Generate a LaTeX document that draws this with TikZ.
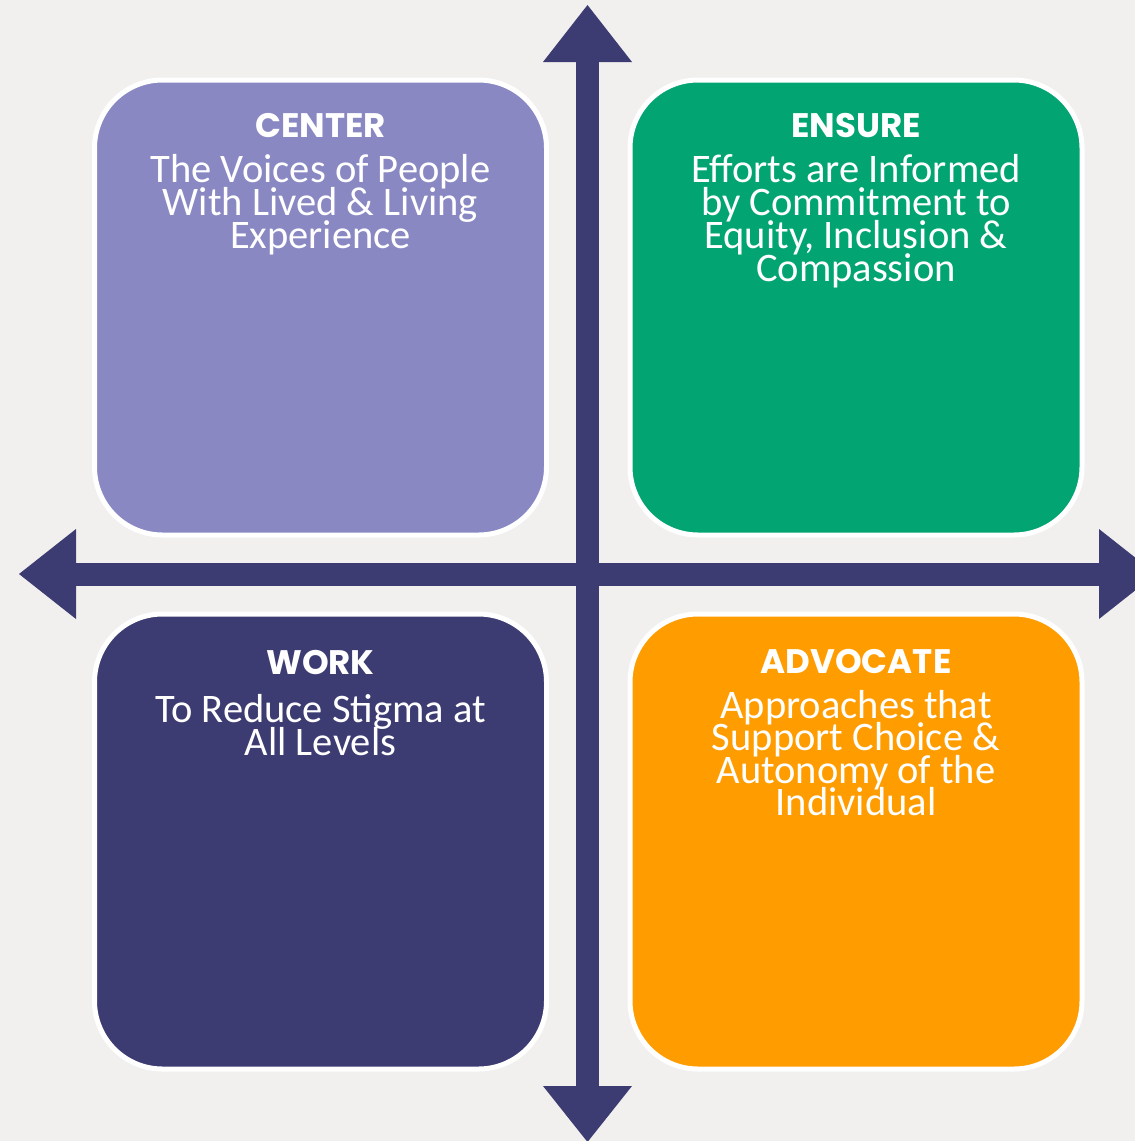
\documentclass[tikz,border=0pt]{standalone}
\usepackage{fontspec}
\setmainfont{Carlito}
\newfontfamily\ttlfont{Poppins}
\definecolor{bgc}{HTML}{F1F0EE}
\definecolor{lavc}{HTML}{8988C3}
\definecolor{grnc}{HTML}{02A572}
\definecolor{navc}{HTML}{3C3B72}
\definecolor{orgc}{HTML}{FF9C00}
\tikzset{
  quad/.style={rectangle, rounded corners=68pt, draw=white, line width=5pt,
    minimum width=452pt, minimum height=455pt, inner sep=0pt},
  ttl/.style={text=white, anchor=base, inner sep=0pt, font=\ttlfont\bfseries\fontsize{34}{34}\selectfont},
  bod/.style={text=white, anchor=base, inner sep=0pt, font=\fontsize{40.5}{33}\selectfont},
  axis/.style={fill=navc, draw=none}
}
\begin{document}
\begin{tikzpicture}[x=1pt, y=-1pt]
\useasboundingbox (0,0) rectangle (1135,1141);
\clip (0,0) rectangle (1135,1141);
\fill[bgc] (0,0) rectangle (1135,1141);
% boxes
\node[quad, fill=lavc] (tl) at (320.5,307.5) {};
\node[quad, fill=grnc] (tr) at (856,307.5) {};
\node[quad, fill=navc] (bl) at (320.5,841.5) {};
\node[quad, fill=orgc] (br) at (856,841.5) {};
% axes
\coordinate (c) at (587.5,574);
\fill[axis] (576,62) rectangle (599,1086);
\fill[axis] (587.5,5) -- (632,62) -- (543,62) -- cycle;
\fill[axis] (587.5,1142) -- (632,1086) -- (543,1086) -- cycle;
\fill[axis] (76,562.5) rectangle (1099,585.5);
\fill[axis] (19,574) -- (76,529) -- (76,619) -- cycle;
\fill[axis] (1156,574) -- (1099,529) -- (1099,619) -- cycle;
% titles
\node[ttl] (t1) at (320.5,137) {CENTER};
\node[ttl] (t2) at (856,137) {ENSURE};
\node[ttl] (t3) at (320.5,674) {WORK};
\node[ttl] (t4) at (856,673) {ADVOCATE};
% bodies
\foreach \s [count=\i] in {The Voices of People, With Lived \& Living, Experience}
  \node[bod] (a\i) at (320.5,{182+33*(\i-1)}) {\s};
\foreach \s [count=\i] in {Efforts are Informed, by Commitment to, {Equity, Inclusion \&}, Compassion}
  \node[bod] (b\i) at (856,{182+33*(\i-1)}) {\s};
\foreach \s [count=\i] in {To Reduce Stigma at, All Levels}
  \node[bod] (d\i) at (320.5,{722+33*(\i-1)}) {\s};
\foreach \s [count=\i] in {Approaches that, Support Choice \&, Autonomy of the, Individual}
  \node[bod] (e\i) at (856,{718+32.5*(\i-1)}) {\s};
\end{tikzpicture}
\end{document}
